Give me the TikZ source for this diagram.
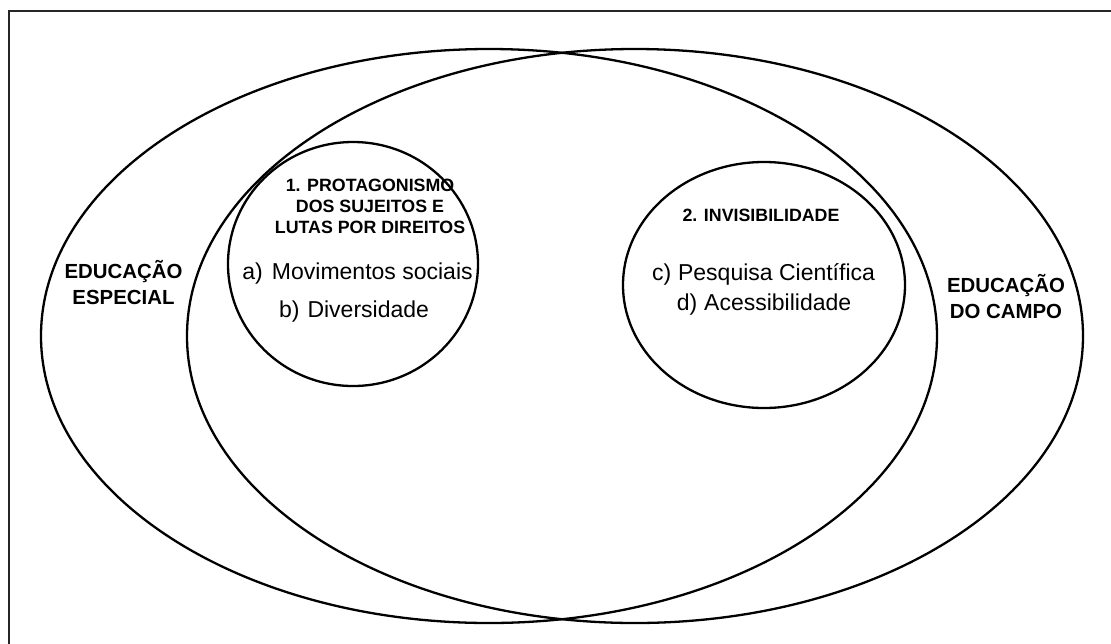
\documentclass[tikz,border=0pt]{standalone}
\usepackage{fontspec}
\setmainfont{Liberation Sans}
\usetikzlibrary{shapes.geometric}
\begin{document}
\begin{tikzpicture}[x=1pt,y=-1pt,
  setshape/.style={draw=black, line width=2.3pt, ellipse, inner sep=0pt, outer sep=0pt},
  bigset/.style={setshape, minimum width=896pt, minimum height=574pt},
  heading/.style={font=\bfseries\fontsize{17.8}{21}\selectfont, align=center, inner sep=0pt},
  setlabel/.style={font=\bfseries\fontsize{20.4}{25.5}\selectfont, align=center, inner sep=0pt},
  item/.style={font=\fontsize{23}{27}\selectfont, inner sep=0pt, anchor=base}]
\useasboundingbox (0,0) rectangle (1111,643);
\clip (0,0) rectangle (1111,643);
\fill[white] (0,0) rectangle (1111,643);

% frame
\draw[line width=2pt, black!85] (9,10.5) rectangle (1130,665);

% the two overlapping fields
\node[bigset] (especial) at (489,336) {};
\node[bigset] (campo) at (635,336) {};

% the two themes
\node[setshape, minimum width=250pt, minimum height=244pt] (tema1) at (353,264) {};
\node[setshape, minimum width=282pt, minimum height=246pt] (tema2) at (764,285) {};

% field labels (base anchor sits on the last line)
\node[setlabel, anchor=base] (lblesp) at (123.5,304) {EDUCAÇÃO\\ESPECIAL};
\node[setlabel, anchor=base] (lblcampo) at (1006,318) {EDUCAÇÃO\\DO CAMPO};

% theme 1
\node[heading, anchor=base] (h1) at (370,233) {1. PROTAGONISMO\\DOS SUJEITOS E\\LUTAS POR DIREITOS};
\node[item] (ia) at (357.5,279) {a)\hspace{0.4em}Movimentos sociais};
\node[item] (ib) at (354,317) {b)\hspace{0.35em}Diversidade};

% theme 2
\node[heading, anchor=base] (h2) at (761,221) {2. INVISIBILIDADE};
\node[item] (ic) at (763.5,280) {c)\hspace{0.3em}Pesquisa Científica};
\node[item] (id) at (764,310) {d)\hspace{0.3em}Acessibilidade};
\end{tikzpicture}
\end{document}
